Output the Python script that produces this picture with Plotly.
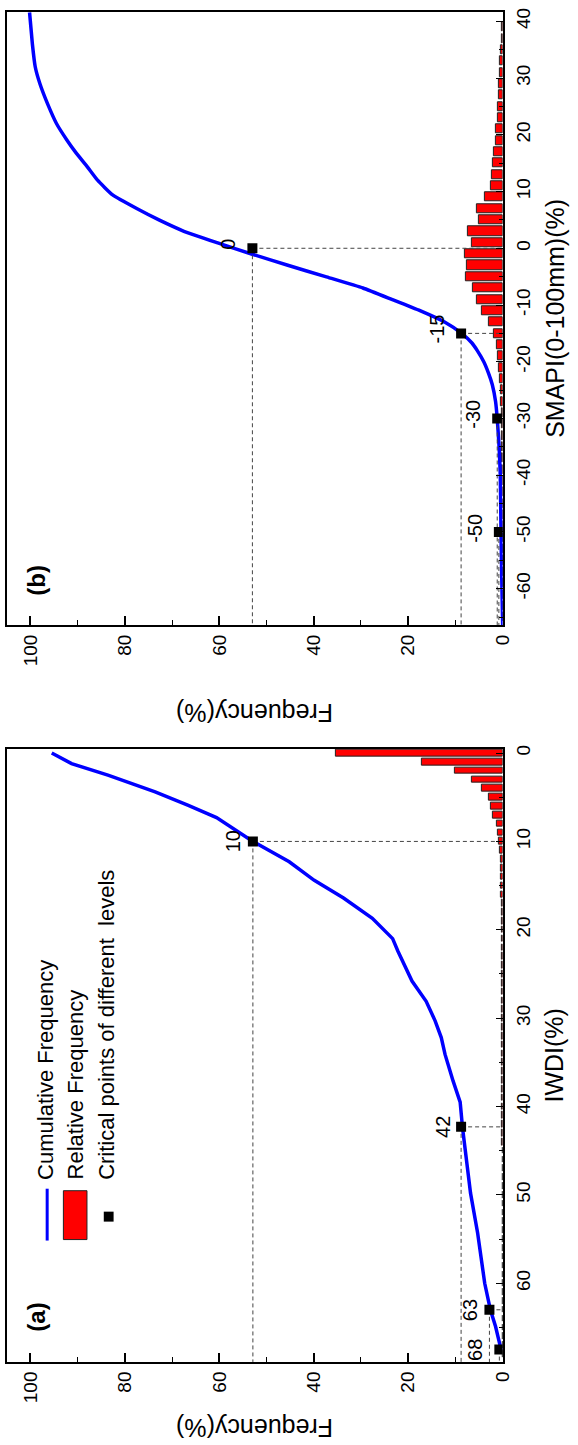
import plotly.graph_objects as go

W, H = 578, 1445

# ---------------- data ----------------
# Panel (a): IWDI
iwdi_bins = list(range(0, 69))
iwdi_rel = [35.4, 17.2, 10.1, 6.5, 4.3, 2.85, 2.5, 2.0, 1.3, 1.1,
            0.7, 0.55, 0.45, 0.4, 0.35, 0.3, 0.3, 0.25, 0.25, 0.2,
            0.2, 0.18, 0.18, 0.15, 0.15, 0.14, 0.13, 0.12, 0.12, 0.11,
            0.1, 0.1, 0.1, 0.09, 0.09, 0.08, 0.08, 0.08, 0.07, 0.07,
            0.07, 0.06, 0.06, 0.06, 0.06, 0.05, 0.05, 0.05, 0.05, 0.05,
            0.04, 0.04, 0.04, 0.04, 0.04, 0.03, 0.03, 0.03, 0.03, 0.03,
            0.03, 0.02, 0.02, 0.02, 0.02, 0.02, 0.02, 0.02, 0.02]
iwdi_cum_x = [0.0, 1.2, 2.5, 4.4, 5.9, 7.3, 10.0, 12.3, 14.4, 16.4, 18.7, 21.0,
              22.4, 25.8, 28.1, 30.3, 32.2, 34.1, 37.1, 39.5, 42.4, 45.7, 49.8,
              54.3, 60.0, 63.0, 64.9, 67.6]
iwdi_cum_f = [95.5, 91.3, 83.6, 73.6, 66.7, 60.6, 52.9, 45.2, 39.9, 33.7, 27.6, 23.3,
              22.2, 19.2, 16.2, 14.3, 13.0, 12.2, 10.5, 9.0, 8.5, 7.7, 6.8,
              5.3, 3.8, 2.6, 1.5, 0.3]
iwdi_crit_x = [10, 42.3, 63, 67.5]
iwdi_crit_f = [52.9, 8.8, 2.8, 0.7]
iwdi_crit_lab = ["10", "42", "63", "68"]
iwdi_ticks = [0, 10, 20, 30, 40, 50, 60]

# Panel (b): SMAPI
smapi_bins = [39, 37, 35, 33, 31, 29, 27, 25, 23, 21, 19, 17, 15, 13, 11, 9, 7, 5, 3, 1,
              -1, -3, -5, -7, -9, -11, -13, -15, -17, -19, -21, -23, -25, -27, -29,
              -31, -33, -35, -37, -39, -41, -43, -45, -47, -49, -51, -53, -55, -57,
              -59, -61, -63, -65]
smapi_rel = [0.1, 0.2, 0.3, 0.5, 0.55, 0.7, 0.77, 0.98, 0.98, 1.5, 1.5, 1.9, 2.05, 2.3,
             2.5, 3.8, 5.5, 5.0, 7.4, 6.6,
             7.9, 7.6, 7.8, 6.4, 5.5, 4.5, 3.0, 1.9, 1.3, 1.0, 0.8, 0.55, 0.4, 0.3, 0.25,
             0.2, 0.18, 0.15, 0.12, 0.1, 0.1, 0.08, 0.08, 0.06, 0.06, 0.05, 0.05, 0.04,
             0.04, 0.03, 0.03, 0.02, 0.02]
smapi_cum_x = [-66.4, -60.0, -50.0, -40.0, -35.0, -30.0, -27.0, -24.0, -22.0, -20.0,
               -18.0, -16.7, -15.0, -13.0, -11.0, -9.0, -7.0, -5.0, -3.0, -1.0, 1.0,
               3.0, 5.0, 7.0, 9.4, 12.0, 14.4, 17.0, 19.1, 22.0, 25.5, 29.0, 32.0,
               36.0, 41.6]
smapi_cum_f = [0.0, 0.15, 0.35, 0.5, 0.75, 1.15, 1.5, 2.2, 3.0, 4.0,
               5.4, 6.5, 8.7, 12.3, 17.5, 23.5, 29.6, 37.5, 45.5, 53.2, 60.5,
               67.5, 72.8, 77.5, 82.6, 85.8, 88.0, 90.5, 92.3, 94.5, 96.4, 98.0, 99.0,
               99.6, 100.2]
smapi_crit_x = [0, -15, -30, -50]
smapi_crit_f = [53.0, 8.8, 1.15, 0.8]
smapi_crit_lab = ["0", "-15", "-30", "-50"]
smapi_ticks = [-60, -50, -40, -30, -20, -10, 0, 10, 20, 30, 40]

freq_ticks = [0, 20, 40, 60, 80, 100]

# ---------------- layout helpers ----------------
FREQ_RANGE = [105, 0]
IWDI_RANGE = [68.9, -0.5]
SMAPI_RANGE = [-66.4, 41.6]
FONT = "Liberation Sans, Arial, sans-serif"
LEFT, RIGHT = 7, 511.5
B_TOP, B_BOT = 8.3, 622.7
A_TOP, A_BOT = 746.7, 1361.7


def px(x):
    return x / W


def py(y):
    return 1 - y / H


def lab(v):
    return str(v).replace("\u2212", "-")


fig = go.Figure()


def add_panel(xa, ya, bins, rel, width, cx, cf, crit_x, crit_f, crit_lab, vmin,
              lab_shift, lab_yshift, smooth):
    fig.add_trace(go.Bar(x=rel, y=bins, orientation="h", width=width,
                         marker=dict(color="#FF0000", line=dict(color="#222222", width=1)),
                         xaxis=xa, yaxis=ya, showlegend=False))
    line = dict(color="#0000FF", width=3.5)
    if smooth:
        line.update(shape="spline", smoothing=0.4)
    fig.add_trace(go.Scatter(x=cf, y=cx, mode="lines", line=line,
                             xaxis=xa, yaxis=ya, showlegend=False))
    dx, dy = [], []
    for v, f in zip(crit_x, crit_f):
        dx += [f, f, None, f, 0, None]
        dy += [v, vmin, None, v, v, None]
    fig.add_trace(go.Scatter(x=dx, y=dy, mode="lines",
                             line=dict(color="#444444", width=1, dash="4px,3px"),
                             xaxis=xa, yaxis=ya, showlegend=False))
    fig.add_trace(go.Scatter(x=crit_f, y=crit_x, mode="markers",
                             marker=dict(symbol="square", size=10, color="black"),
                             xaxis=xa, yaxis=ya, showlegend=False))
    for v, f, t, s in zip(crit_x, crit_f, crit_lab, lab_shift):
        fig.add_annotation(x=f, y=v, xref=xa, yref=ya, text=t, showarrow=False,
                           textangle=-90, xshift=s, yshift=lab_yshift,
                           xanchor="center", yanchor="middle",
                           font=dict(family=FONT, size=20, color="black"))


add_panel("x", "y", smapi_bins, smapi_rel, 1.6, smapi_cum_x, smapi_cum_f,
          smapi_crit_x, smapi_crit_f, smapi_crit_lab, SMAPI_RANGE[0],
          [-24, -24, -24, -24], 4, True)
add_panel("x2", "y2", iwdi_bins, iwdi_rel, 0.75, iwdi_cum_x, iwdi_cum_f,
          iwdi_crit_x, iwdi_crit_f, iwdi_crit_lab, IWDI_RANGE[0],
          [-19, -18, -20, -25], 0, False)

xax = dict(range=FREQ_RANGE, tickvals=freq_ticks, ticktext=[lab(v) for v in freq_ticks],
           ticks="inside", ticklen=9, tickwidth=1.5, tickcolor="black",
           minor=dict(dtick=10, ticks="inside", ticklen=5, tickwidth=1.2, tickcolor="black"),
           tickangle=-90, tickfont=dict(family=FONT, size=19, color="black"),
           showline=True, linewidth=2, linecolor="black", mirror=True,
           showgrid=False, zeroline=False, ticklabelstandoff=0)
yax = dict(side="right", ticks="inside", ticklen=7, tickwidth=1.2, tickcolor="black",
           minor=dict(dtick=5, ticks="inside", ticklen=4, tickwidth=1, tickcolor="black"),
           tickangle=-90, tickfont=dict(family=FONT, size=19, color="black"),
           showline=True, linewidth=2, linecolor="black", mirror=True,
           showgrid=False, zeroline=False, ticklabelstandoff=3)

fig.update_layout(
    width=W, height=H, margin=dict(l=0, r=0, t=0, b=0),
    paper_bgcolor="white", plot_bgcolor="white", bargap=0,
    xaxis=dict(xax, domain=[px(LEFT), px(RIGHT)], anchor="y"),
    yaxis=dict(yax, domain=[py(B_BOT), py(B_TOP)], anchor="x", range=SMAPI_RANGE,
               tickvals=smapi_ticks, ticktext=[lab(v) for v in smapi_ticks]),
    xaxis2=dict(xax, domain=[px(LEFT), px(RIGHT)], anchor="y2"),
    yaxis2=dict(yax, domain=[py(A_BOT), py(A_TOP)], anchor="x2", range=IWDI_RANGE,
                tickvals=iwdi_ticks, ticktext=[lab(v) for v in iwdi_ticks]),
)

# axis titles
title_font = dict(family=FONT, size=25, color="black")
for ytxt in [711, 1428]:
    fig.add_annotation(x=px(259), y=py(ytxt), xref="paper", yref="paper",
                       text="Frequency(%)", textangle=180, showarrow=False,
                       xanchor="center", yanchor="middle", font=title_font)
fig.add_annotation(x=px(564), y=py((B_TOP + B_BOT) / 2), xref="paper", yref="paper",
                   text="SMAPI(0-100mm)(%)", textangle=-90, showarrow=False,
                   xanchor="center", yanchor="middle", font=title_font)
fig.add_annotation(x=px(564), y=py((A_TOP + A_BOT) / 2), xref="paper", yref="paper",
                   text="IWDI(%)", textangle=-90, showarrow=False,
                   xanchor="center", yanchor="middle", font=title_font)

# panel labels
for t, yy in [("<b>(b)</b>", 578), ("<b>(a)</b>", 1317)]:
    fig.add_annotation(x=px(37), y=py(yy), xref="paper", yref="paper", text=t,
                       textangle=-90, showarrow=False, xanchor="center", yanchor="middle",
                       font=dict(family=FONT, size=24, color="black"))

# legend (drawn manually, rotated)
fig.add_shape(type="line", xref="paper", yref="paper", x0=px(48), x1=px(48),
              y0=py(1240), y1=py(1188), line=dict(color="#0000FF", width=3))
fig.add_shape(type="rect", xref="paper", yref="paper", x0=px(64.5), x1=px(88.5),
              y0=py(1239), y1=py(1190), fillcolor="#FF0000", line=dict(color="#222222", width=1))
fig.add_shape(type="rect", xref="paper", yref="paper", x0=px(105.6), x1=px(115.6),
              y0=py(1221), y1=py(1211), fillcolor="black", line=dict(color="black", width=0))
leg_font = dict(family=FONT, size=22, color="black")
for t, xx in [("Cumulative Frequency", 47), ("Relative Frequency", 77),
              ("Critical points of different\u00a0 levels", 109)]:
    fig.add_annotation(x=px(xx), y=py(1181), xref="paper", yref="paper", text=t,
                       textangle=-90, showarrow=False, xanchor="center", yanchor="bottom",
                       font=leg_font)

fig.write_html("out.html")
